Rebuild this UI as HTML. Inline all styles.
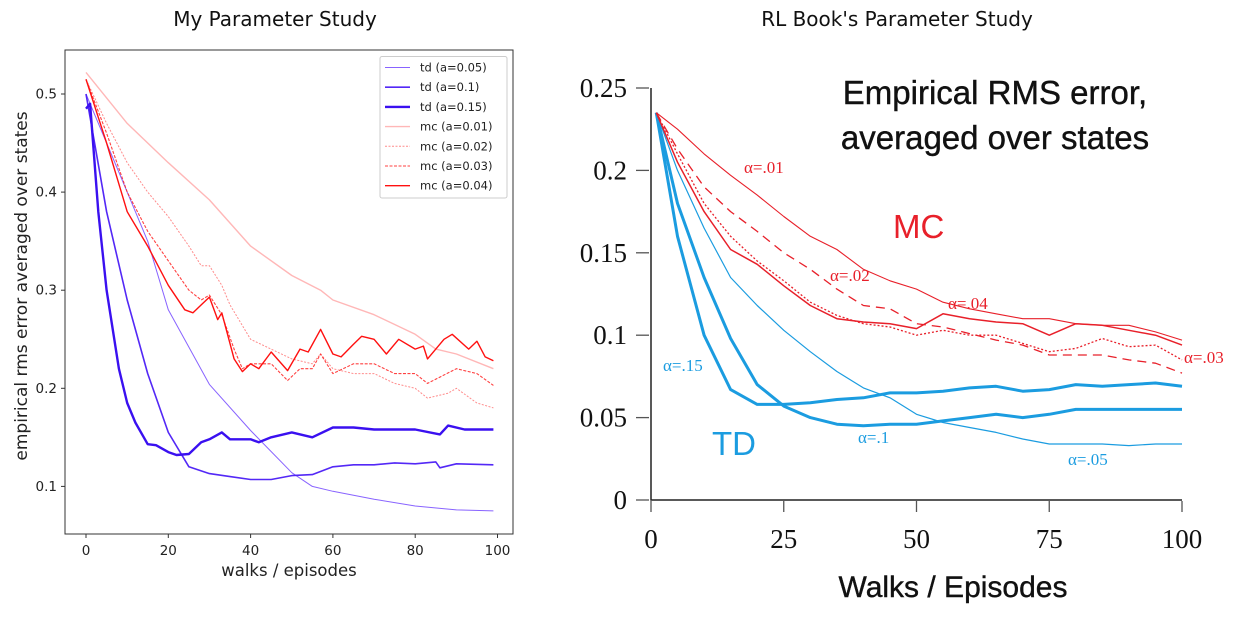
<!DOCTYPE html>
<html><head><meta charset="utf-8">
<style>
html,body{margin:0;padding:0;background:#fff;width:1236px;height:644px;overflow:hidden}
svg{display:block}
.dj{font-family:"DejaVu Sans","Liberation Sans",sans-serif}
.ls{font-family:"Liberation Sans",sans-serif}
.sr{font-family:"Liberation Serif",serif}
</style></head>
<body>
<svg id="root" width="1236" height="644" xmlns="http://www.w3.org/2000/svg">
<text x="275" y="26" text-anchor="middle" class="dj" font-size="20" fill="#111">My Parameter Study</text>
<text x="897" y="26" text-anchor="middle" class="dj" font-size="20" fill="#111">RL Book's Parameter Study</text>
<g id="left"></g>
<g id="right"></g>
</svg>
<script>
// ---------- Left chart data ----------
const leftXTicks = [0,20,40,60,80,100];
const leftYTicks = [0.1,0.2,0.3,0.4,0.5];
const leftYTickLabels = ["0.1","0.2","0.3","0.4","0.5"];
const td005Ep = [0,5,10,15,20,30,40,50,55,60,70,80,90,99];
const td005Val = [0.50,0.45,0.40,0.35,0.28,0.204,0.157,0.114,0.10,0.095,0.087,0.080,0.076,0.075];
const td01Ep = [0,5,10,15,20,25,30,35,40,45,50,55,60,65,70,75,80,85,86,90,99];
const td01Val = [0.50,0.38,0.29,0.215,0.155,0.12,0.113,0.11,0.107,0.107,0.111,0.112,0.12,0.122,0.122,0.124,0.123,0.125,0.119,0.123,0.122];
const td015Ep = [0,1,3,5,8,10,12,15,17,20,22,25,28,30,33,35,40,42,45,50,55,60,65,70,75,80,86,88,92,99];
const td015Val = [0.485,0.49,0.38,0.30,0.22,0.185,0.165,0.143,0.142,0.135,0.132,0.133,0.145,0.148,0.155,0.148,0.148,0.145,0.15,0.155,0.15,0.16,0.16,0.158,0.158,0.158,0.153,0.162,0.158,0.158];
const mc001Ep = [0,10,20,30,40,50,57,60,70,80,85,90,99];
const mc001Val = [0.522,0.47,0.43,0.392,0.345,0.315,0.30,0.29,0.275,0.255,0.24,0.235,0.22];
const mc002Ep = [0,5,10,15,20,25,28,30,33,35,40,45,50,55,57,60,65,70,75,80,83,88,90,95,99];
const mc002Val = [0.515,0.47,0.43,0.40,0.375,0.345,0.325,0.325,0.305,0.285,0.25,0.24,0.23,0.225,0.235,0.22,0.215,0.215,0.205,0.20,0.19,0.195,0.20,0.185,0.18];
const mc003Ep = [0,5,10,15,20,25,28,30,33,36,38,40,45,49,52,55,57,60,65,70,75,80,83,90,95,99];
const mc003Val = [0.515,0.46,0.40,0.36,0.33,0.30,0.29,0.295,0.275,0.24,0.22,0.225,0.225,0.208,0.22,0.22,0.235,0.215,0.225,0.225,0.215,0.215,0.205,0.22,0.215,0.203];
const mc004Ep = [0,5,10,15,20,24,26,28,30,32,33,36,38,40,42,45,49,52,54,57,60,62,65,67,70,73,76,80,82,83,87,89,93,95,97,99];
const mc004Val = [0.515,0.45,0.38,0.345,0.305,0.28,0.277,0.285,0.293,0.27,0.277,0.23,0.217,0.225,0.22,0.237,0.218,0.24,0.237,0.26,0.235,0.232,0.245,0.253,0.25,0.235,0.25,0.24,0.243,0.23,0.25,0.255,0.24,0.248,0.232,0.228];
const leftLegend = ["td (a=0.05)","td (a=0.1)","td (a=0.15)","mc (a=0.01)","mc (a=0.02)","mc (a=0.03)","mc (a=0.04)"];

// ---------- Right chart data ----------
const rightXTicks = [0,25,50,75,100];
const rightYTicks = [0,0.05,0.1,0.15,0.2,0.25];
const rightYTickLabels = ["0","0.05","0.1","0.15","0.2","0.25"];
const rW = [1,5,10,15,20,25,30,35,40,45,50,55,60,65,70,75,80,85,90,95,100];
const rTd005 = [0.235,0.20,0.165,0.135,0.118,0.103,0.09,0.078,0.068,0.062,0.052,0.047,0.044,0.041,0.037,0.034,0.034,0.034,0.033,0.034,0.034];
const rTd01 = [0.235,0.18,0.135,0.098,0.07,0.057,0.05,0.046,0.045,0.046,0.046,0.048,0.05,0.052,0.05,0.052,0.055,0.055,0.055,0.055,0.055];
const rTd015 = [0.235,0.16,0.10,0.067,0.058,0.058,0.059,0.061,0.062,0.065,0.065,0.066,0.068,0.069,0.066,0.067,0.07,0.069,0.07,0.071,0.069];
const rMc001 = [0.235,0.225,0.21,0.197,0.185,0.172,0.16,0.152,0.14,0.133,0.128,0.12,0.116,0.113,0.11,0.11,0.107,0.106,0.106,0.102,0.097];
const rMc002 = [0.235,0.213,0.19,0.175,0.163,0.15,0.14,0.128,0.118,0.116,0.107,0.105,0.101,0.097,0.094,0.088,0.088,0.088,0.085,0.083,0.077];
const rMc003 = [0.235,0.21,0.18,0.16,0.145,0.133,0.12,0.112,0.107,0.105,0.10,0.103,0.10,0.10,0.095,0.09,0.092,0.098,0.093,0.094,0.085];
const rMc004 = [0.235,0.205,0.175,0.152,0.143,0.13,0.118,0.11,0.108,0.107,0.104,0.113,0.11,0.108,0.107,0.10,0.107,0.106,0.103,0.10,0.094];

const NS = "http://www.w3.org/2000/svg";
function mk(tag, attrs, parent){const e=document.createElementNS(NS,tag);for(const k in attrs)e.setAttribute(k,attrs[k]);parent.appendChild(e);return e;}
function path(xs, ys, fx, fy){return xs.map((x,i)=>(i?"L":"M")+fx(x).toFixed(1)+","+fy(ys[i]).toFixed(1)).join("");}

// ---------- Left ----------
const L = document.getElementById('left');
const lx = v => 86 + v*4.115;
const ly = v => 94 + (0.5-v)*981;
let fr = mk('rect',{x:65,y:50,width:448,height:484,fill:'none',stroke:'#333','stroke-width':1},L);


leftXTicks.forEach(t=>{
  let tk = mk('line',{x1:lx(t),x2:lx(t),y1:534,y2:538,stroke:'#333'},L);
  
  
  let tx = mk('text',{x:lx(t),y:555,'text-anchor':'middle','font-size':13.5,fill:'#222',class:'dj'},L);
  tx.textContent = t;
  
  
});
leftYTicks.forEach((t,i)=>{
  let tk = mk('line',{x1:61,x2:65,y1:ly(t),y2:ly(t),stroke:'#333'},L);
  
  
  let tx = mk('text',{x:57,y:ly(t)+4.5,'text-anchor':'end','font-size':13.5,fill:'#222',class:'dj'},L);
  tx.textContent = leftYTickLabels[i];
  
  
});
let xl = mk('text',{x:289,y:576,'text-anchor':'middle','font-size':16.5,fill:'#222',class:'dj'},L);
xl.textContent='walks / episodes';


let yl = mk('text',{x:0,y:0,'text-anchor':'middle','font-size':17,fill:'#222',class:'dj',transform:'translate(27,286) rotate(-90)'},L);
yl.textContent='empirical rms error averaged over states';



const leftSeries = [
  [td005Ep,td005Val,'#6a3cff',1,0.8,''],
  [td01Ep,td01Val,'#4a1cf5',1.6,0.95,''],
  [td015Ep,td015Val,'#3a10f0',2.4,1,''],
  [mc001Ep,mc001Val,'#ff6060',1.4,0.45,''],
  [mc002Ep,mc002Val,'#ff4040',1,0.6,'2,1.5'],
  [mc003Ep,mc003Val,'#ff2020',1.1,0.85,'3,1.5'],
  [mc004Ep,mc004Val,'#ff1010',1.4,1,'']
];
const lnames=['td-005-line','td-01-line','td-015-line','mc-001-line','mc-002-line','mc-003-line','mc-004-line'];
leftSeries.forEach((s,i)=>{
  let p = mk('path',{d:path(s[0],s[1],lx,ly),fill:'none',stroke:s[2],'stroke-width':s[3],'stroke-opacity':s[4],'stroke-linejoin':'round'},L);
  if(s[5]) p.setAttribute('stroke-dasharray',s[5]);
  
  
});
let lg = mk('rect',{x:380,y:56.5,width:127,height:141.5,fill:'#fff','fill-opacity':0.85,stroke:'#ccc',rx:2},L);


leftLegend.forEach((t,i)=>{
  const y = 67.5 + i*19.7;
  const s = leftSeries[i];
  let ln = mk('line',{x1:385,x2:410,y1:y,y2:y,stroke:s[2],'stroke-width':s[3],'stroke-opacity':s[4]},L);
  if(s[5]) ln.setAttribute('stroke-dasharray',s[5]);
  
  
  let tx = mk('text',{x:420,y:y+4,'font-size':11.5,fill:'#222',class:'dj'},L);
  tx.textContent=t;
  
  
});

// ---------- Right ----------
const R = document.getElementById('right');
const rx = v => 651 + v*5.31;
const ry = v => 500 - v*1648;
let ax = mk('path',{d:'M651,88 L651,500 L1182,500',fill:'none',stroke:'#222','stroke-width':1.5},R);


rightXTicks.forEach(t=>{
  let tk = mk('line',{x1:rx(t),x2:rx(t),y1:501,y2:512,stroke:'#555','stroke-width':1.3},R);
  
  
  let tx = mk('text',{x:rx(t),y:548,'text-anchor':'middle','font-size':27,fill:'#111',class:'sr'},R);
  tx.textContent=t;
  
  
});
rightYTicks.forEach((t,i)=>{
  let tk = mk('line',{x1:636,x2:649,y1:ry(t),y2:ry(t),stroke:'#555','stroke-width':1.3},R);
  
  
  let tx = mk('text',{x:627,y:ry(t)+9,'text-anchor':'end','font-size':27,fill:'#111',class:'sr'},R);
  tx.textContent=rightYTickLabels[i];
  
  
});
const rightSeries = [
  [rTd005,'#1b9ce0',1.2,''],
  [rTd01,'#1b9ce0',3,''],
  [rTd015,'#1b9ce0',3,''],
  [rMc001,'#e8202a',1.1,''],
  [rMc002,'#e8202a',1.3,'9,6'],
  [rMc003,'#e8202a',1.3,'2,2'],
  [rMc004,'#e8202a',1.5,'']
];
const rnames=['td-005-curve','td-01-curve','td-015-curve','mc-001-curve','mc-002-curve','mc-003-curve','mc-004-curve'];
rightSeries.forEach((s,i)=>{
  let p = mk('path',{d:path(rW,s[0],rx,ry),fill:'none',stroke:s[1],'stroke-width':s[2],'stroke-linejoin':'round'},R);
  if(s[3]) p.setAttribute('stroke-dasharray',s[3]);
  
  
});
const ann = [
  ['α=.01',744,173,'#e8202a',17,'sr'],
  ['α=.02',830,281,'#e8202a',17,'sr'],
  ['α=.04',948,309,'#e8202a',17,'sr'],
  ['α=.03',1184,363,'#e8202a',17,'sr'],
  ['α=.15',663,371,'#1b9ce0',17,'sr'],
  ['α=.1',858,443,'#1b9ce0',17,'sr'],
  ['α=.05',1068,465,'#1b9ce0',17,'sr'],
  ['MC',893,238,'#e8202a',33,'ls'],
  ['TD',712,455,'#1b9ce0',33,'ls']
];
ann.forEach(a=>{
  let tx = mk('text',{x:a[1],y:a[2],'font-size':a[4],fill:a[3],class:a[5]},R);
  tx.textContent=a[0];
  
  
});
let t1 = mk('text',{x:995,y:104,'text-anchor':'middle','font-size':33,fill:'#111',class:'ls',stroke:'#111','stroke-width':0.4},R);
t1.textContent='Empirical RMS error,';


let t2 = mk('text',{x:995,y:149,'text-anchor':'middle','font-size':33,fill:'#111',class:'ls',stroke:'#111','stroke-width':0.4},R);
t2.textContent='averaged over states';


let xt = mk('text',{x:953,y:597,'text-anchor':'middle','font-size':30,fill:'#111',class:'ls',stroke:'#111','stroke-width':0.4},R);
xt.textContent='Walks / Episodes';


</script>
</body></html>
